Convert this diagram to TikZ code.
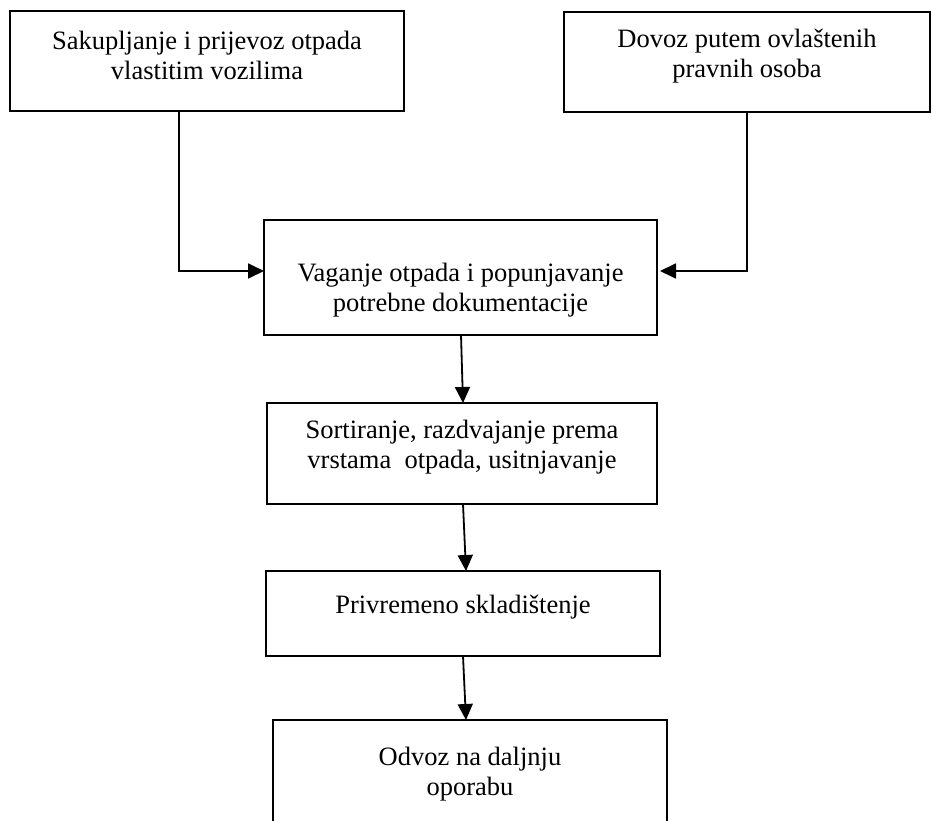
\documentclass[tikz,border=0pt]{standalone}
\usepackage{fontspec}
\setmainfont{Liberation Serif}
\usetikzlibrary{arrows.meta}
\begin{document}
\begin{tikzpicture}[x=1pt,y=-1pt,
  box/.style={draw=black, line width=1.8pt, inner sep=0pt, outer sep=0pt},
  txt/.style={font=\fontsize{26.5}{30}\selectfont, align=center, inner sep=0pt},
  arr/.style={draw=black, line width=1.8pt, -{Triangle[length=16pt,width=15pt]}}]
\useasboundingbox (0,0) rectangle (932,821);
\clip (0,0) rectangle (932,821);
% boxes
\node[box, minimum width=394pt, minimum height=100pt] (b1) at (207,61) {};
\node[box, minimum width=366pt, minimum height=100pt] (b2) at (747,62) {};
\node[box, minimum width=393pt, minimum height=115pt] (b3) at (460.5,277.5) {};
\node[box, minimum width=390pt, minimum height=101pt] (b4) at (462,453.5) {};
\node[box, minimum width=394pt, minimum height=85pt] (b5) at (463,613.5) {};
\node[box, minimum width=394pt, minimum height=110pt] (b6) at (470,775) {};
% texts
\node[txt] (t1) at (207,55.75) {Sakupljanje i prijevoz otpada\\vlastitim vozilima};
\node[txt] (t2) at (747,56) {Dovoz putem ovlaštenih\\pravnih osoba};
\node[txt] (t3) at (460.5,290.5) {Vaganje otpada i popunjavanje\\potrebne dokumentacije};
\node[txt] (t4) at (462,446.75) {Sortiranje, razdvajanje prema\\vrstama\ \ otpada, usitnjavanje};
\node[txt] (t5) at (463,606.75) {Privremeno skladištenje};
\node[txt] (t6) at (470,774.25) {Odvoz na daljnju\\oporabu};
% connector coordinates
\coordinate (x1) at (179,0);
\coordinate (x2) at (747,0);
% connectors
\draw[arr] (b1.south -| x1) |- ([yshift=6.5pt]b3.west);
\draw[arr] (b2.south -| x2) |- ([yshift=6.5pt,xshift=3pt]b3.east);
\draw[arr] ([xshift=0.5pt]b3.south) -- ([xshift=1pt]b4.north);
\draw[arr] ([xshift=1pt]b4.south) -- ([xshift=3pt]b5.north);
\draw[arr] (b5.south) -- ([xshift=-4pt]b6.north);
\end{tikzpicture}
\end{document}
